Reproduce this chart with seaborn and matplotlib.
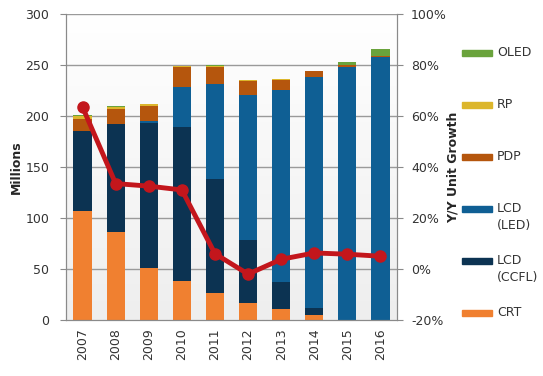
import numpy as np
import pandas as pd
import matplotlib
matplotlib.use("Agg")
import matplotlib.pyplot as plt
import seaborn as sns
from matplotlib.colors import LinearSegmentedColormap
from matplotlib.patches import Rectangle

years = ['2007', '2008', '2009', '2010', '2011', '2012', '2013', '2014', '2015', '2016']

# shipments by technology, millions
crt = [107, 86.5, 50.5, 38.5, 26, 17, 10.5, 5, 0, 0]
ccfl = [78.5, 105.5, 143, 151, 112, 61.5, 26.5, 6.5, 0, 0]
led = [0, 0, 2, 39, 93, 142, 188.5, 227, 248.4, 257.5]
pdp = [12, 15, 14, 19.3, 17, 13.7, 9.5, 5.3, 1.6, 1]
rp = [2.5, 1.7, 2, 1, 1.2, 1, 1, 0.5, 0, 0]
oled = [0.5, 1, 0.5, 0.5, 0.5, 0.3, 0.3, 0.3, 3, 7.2]

# Y/Y unit growth, %
growth = [63.5, 33.5, 32.5, 31, 6, -2, 3.8, 6.3, 5.8, 5.0]

series = ['CRT', 'LCD\n(CCFL)', 'LCD\n(LED)', 'PDP', 'RP', 'OLED']
colors = ['#f08030', '#0c3352', '#0f5f94', '#b5560d', '#dcb62c', '#6aa33c']

df = pd.DataFrame({'year': years, 'CRT': crt, 'LCD\n(CCFL)': ccfl, 'LCD\n(LED)': led,
                   'PDP': pdp, 'RP': rp, 'OLED': oled})
cum = df[series].cumsum(axis=1)

sns.set_style('white')
plt.rcParams['font.family'] = ['DejaVu Sans']

fig = plt.figure(figsize=(5.43, 3.76), dpi=100)
ax = fig.add_axes([66 / 543, 56 / 376, 331 / 543, 306 / 376])

# soft gradient background
grad = np.linspace(0, 1, 256).reshape(-1, 1)
cmap = LinearSegmentedColormap.from_list('bg', ['#ffffff', '#eeeeee'])
ax.imshow(grad, extent=[-0.5, 9.5, 0, 300], aspect='auto', cmap=cmap, zorder=0, origin='upper')

for v in range(50, 301, 50):
    ax.axhline(v, color='#9a9a9a', lw=1, zorder=1)

# stacked bars: tallest cumulative first
for name, col in reversed(list(zip(series, colors))):
    sns.barplot(x=df['year'], y=cum[name], color=col, width=0.55, ax=ax,
                saturation=1, zorder=2, edgecolor='none')

ax.set_xlim(-0.5, 9.5)
ax.set_ylim(0, 300)
ax.set_yticks(range(0, 301, 50))
ax.set_xlabel('')
ax.set_ylabel('Millions', fontsize=9, fontweight='bold', labelpad=2)
ax.tick_params(axis='y', labelsize=9, length=4, color='#8a8a8a', pad=8, labelcolor='#333333')
ax.tick_params(axis='x', labelsize=9, rotation=90, length=0, pad=6, labelcolor='#333333')
ax.set_xticks(np.arange(-0.5, 10, 1), minor=True)
ax.tick_params(axis='x', which='minor', length=5, color='#8a8a8a')
for s in ax.spines.values():
    s.set_color('#8a8a8a')
ax.spines['top'].set_visible(False)

ax2 = ax.twinx()
ax2.plot(range(len(years)), growth, color='#c3161c', lw=3.5, marker='o', markersize=8, zorder=5)
ax2.set_ylim(-20, 100)
ax2.set_yticks(range(-20, 101, 20))
ax2.set_yticklabels([f'{v}%' for v in range(-20, 101, 20)])
ax2.tick_params(axis='y', labelsize=9, length=4, color='#8a8a8a', pad=6, labelcolor='#333333')
ax2.set_ylabel('Y/Y Unit Growth', fontsize=9, fontweight='bold', labelpad=0)
for s in ax2.spines.values():
    s.set_color('#8a8a8a')
ax2.spines['top'].set_visible(False)

# legend on the right
legend_y = [53, 105, 157, 209, 261, 313]
for (name, col), y in zip(reversed(list(zip(series, colors))), legend_y):
    fig.patches.append(Rectangle((462 / 543, 1 - (y + 3) / 376), 30 / 543, 6 / 376,
                                 transform=fig.transFigure, color=col, figure=fig))
    fig.text(497 / 543, 1 - (y - 7) / 376, name.replace('\n(', '\n('), fontsize=9,
             va='top', ha='left', color='#333333', linespacing=1.35)

fig.savefig('out.png', dpi=100)
